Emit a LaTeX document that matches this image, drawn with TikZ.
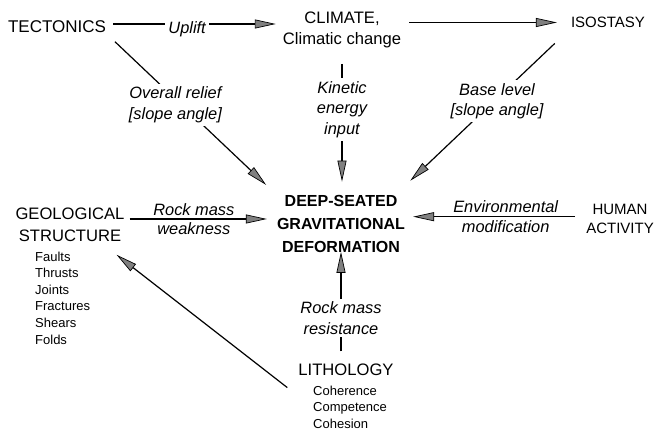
\documentclass[tikz,border=0pt]{standalone}
\usepackage{fontspec}
\setmainfont{Liberation Sans}
\usetikzlibrary{arrows.meta}

\begin{document}
\begin{tikzpicture}[x=1pt, y=-1pt]

\tikzstyle{mytitle}=[
  font=\fontsize{16.6}{21.5}\selectfont,
  align=center,
  inner sep=3pt]

\tikzstyle{mysmalltitle}=[
  mytitle,
  font=\fontsize{15}{18.5}\selectfont]

\tikzstyle{mycentre}=[
  font=\bfseries\fontsize{16}{23}\selectfont,
  align=center,
  inner sep=2pt]

\tikzstyle{mylist}=[
  font=\fontsize{13}{16.6}\selectfont,
  align=left,
  inner sep=0pt]

\tikzstyle{mylabel}=[font=\itshape\fontsize{16.4}{20.5}\selectfont, align=center, inner sep=3pt]

\tikzstyle{mycut}=[mylabel, fill=white]

\tikzstyle{myarrow}=[
  line width=1.2pt,
  -{Triangle[length=21pt, width=9pt, line width=0.7pt, fill=black!50]}]

\useasboundingbox (0,0) rectangle (656,435);

% define nodes
\node[mytitle, font=\fontsize{17}{21}\selectfont] (tect) at (57,27) {TECTONICS};
\node[mytitle] (clim) at (342,29.7) {CLIMATE,\\Climatic change};
\node[mysmalltitle] (iso) at (608,22.5) {ISOSTASY};

\node[mycentre] (ddef) at (341,224) {DEEP-SEATED\\GRAVITATIONAL\\DEFORMATION};

\node[mytitle] (geo) at (70,225) {GEOLOGICAL\\STRUCTURE};
\node[mylist, anchor=north west] (geolist) at (35,251.5)
  {Faults\\Thrusts\\Joints\\Fractures\\Shears\\Folds};

\node[mysmalltitle] (human) at (620,218.7) {HUMAN\\ACTIVITY};

\node[mytitle] (lith) at (346,369.5) {LITHOLOGY};
\node[mylist, anchor=north west] (lithlist) at (313,385.5)
  {Coherence\\Competence\\Cohesion};

% draw arrows
\draw[myarrow, shorten <=4pt, shorten >=4pt]
  ([yshift=3pt]tect.east) --
  node[mycut, pos=0.457, yshift=-5pt] (uplift) {Uplift}
  ([yshift=3pt]tect.east -| clim.west);

\draw[myarrow, shorten <=5pt, shorten >=11pt]
  (clim.east |- iso.west) -- (iso.west);

\draw[myarrow, shorten <=8pt, shorten >=12pt]
  (tect.south east) --
  node[mycut, pos=0.40, yshift=-6pt] (relief) {Overall relief\\{}[slope angle]}
  (ddef.north west);

\draw[myarrow, shorten <=12.6pt, shorten >=11.5pt]
  (clim.south) --
  node[mycut, pos=0.41] (kinetic) {Kinetic\\energy\\input}
  (clim.south |- ddef.north);

\draw[myarrow, shorten <=18pt, shorten >=18pt]
  (iso.south west) --
  node[mycut, pos=0.415, yshift=-3pt] (base) {Base level\\{}[slope angle]}
  ([xshift=-10pt]ddef.north east);

\draw[myarrow, shorten <=2pt, shorten >=8pt]
  ([yshift=6pt]geo.east) --
  node[mylabel, pos=0.45, above] (weak) {Rock mass}
  node[mylabel, pos=0.45, below] (weak2) {weakness}
  ([yshift=6pt]geo.east -| ddef.west);

\draw[myarrow, shorten <=8pt, shorten >=6pt]
  ([yshift=2pt]human.west) --
  node[mylabel, pos=0.44, above] (env) {Environmental}
  node[mylabel, pos=0.44, below] (env2) {modification}
  ([yshift=2pt]human.west -| ddef.east);

\draw[myarrow, shorten <=9pt, shorten >=-3pt]
  (ddef.south |- lith.north) --
  node[mycut, pos=0.40] (resist) {Rock mass\\resistance}
  (ddef.south);

\draw[myarrow]
  ([shift={(-8pt,-9pt)}]lith.south west) -- ([shift={(-11pt,-10pt)}]geo.south east);

\end{tikzpicture}
\end{document}
